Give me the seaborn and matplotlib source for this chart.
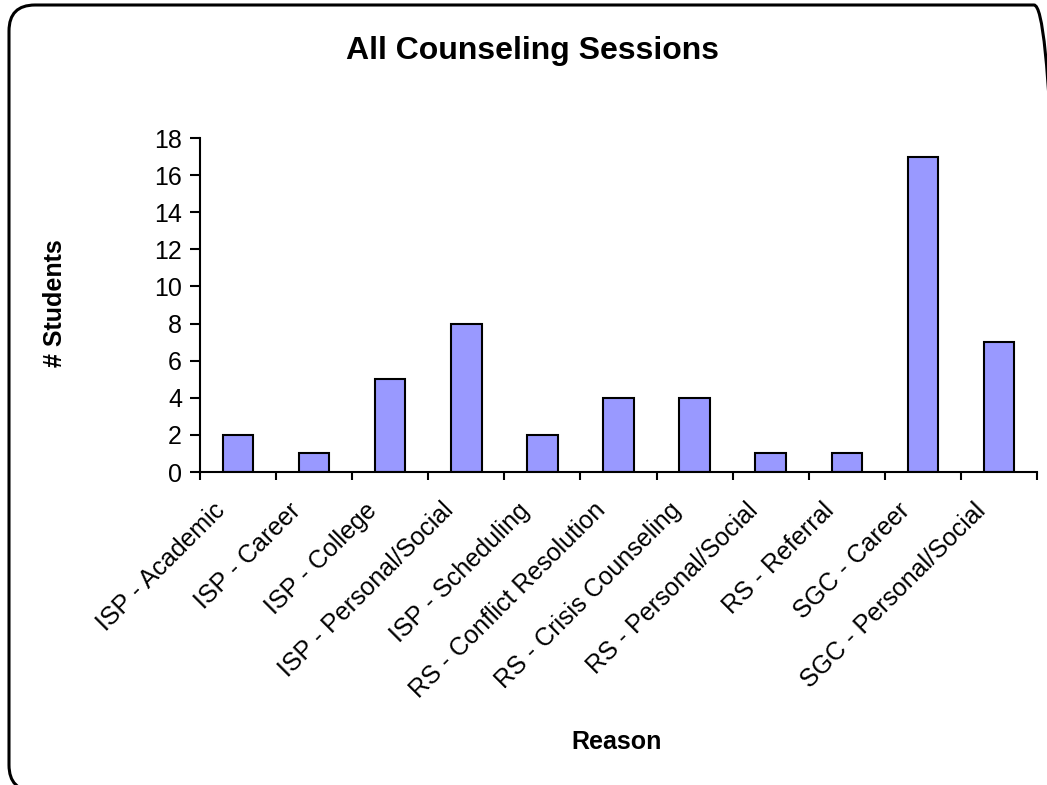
import matplotlib
matplotlib.use("Agg")
import matplotlib.pyplot as plt
from matplotlib.patches import FancyBboxPatch
from matplotlib.transforms import IdentityTransform
import seaborn as sns
import pandas as pd

reasons = [
    "ISP - Academic", "ISP - Career", "ISP - College", "ISP - Personal/Social",
    "ISP - Scheduling", "RS - Conflict Resolution", "RS - Crisis Counseling",
    "RS - Personal/Social", "RS - Referral", "SGC - Career", "SGC - Personal/Social",
]
students = [2, 1, 5, 8, 2, 4, 4, 1, 1, 17, 7]
y_ticks = [0, 2, 4, 6, 8, 10, 12, 14, 16, 18]

sns.set_theme(style="white")
plt.rcParams["font.family"] = ["Liberation Sans", "DejaVu Sans"]
plt.rcParams.update({"text.color": "black", "axes.labelcolor": "black",
                     "xtick.color": "black", "ytick.color": "black"})

df = pd.DataFrame({"Reason": reasons, "Students": students})

W, H = 1047, 785
fig = plt.figure(figsize=(W / 100, H / 100), dpi=100)
fig.patch.set_facecolor("white")

# rounded outer frame of the chart area (pixel coordinates, origin bottom-left)
frame = FancyBboxPatch((9, -6), 1060 - 9, (H - 5) - (-6),
                       boxstyle="round,pad=0,rounding_size=26",
                       transform=IdentityTransform(), fill=False,
                       edgecolor="black", linewidth=2.2, clip_on=False)
fig.patches.append(frame)

ax = fig.add_axes([200 / W, 1 - 472 / H, (1037 - 200) / W, (472 - 138) / H])
sns.barplot(data=df, x="Reason", y="Students", ax=ax, color="#9999FF",
            saturation=1, width=0.4, edgecolor="black", linewidth=1.5)

n = len(reasons)
ax.set_xlim(-0.5, n - 0.5)
ax.set_ylim(0, 18)
ax.set_yticks(y_ticks)
ax.set_yticklabels([str(v) for v in y_ticks], fontsize=18)

# tick marks sit between categories; rotated names hang just left of each bar
ax.set_xticks([i - 0.5 for i in range(n + 1)])
ax.set_xticklabels([])
ax.set_xticks([i - 0.22 for i in range(n)], minor=True)
ax.set_xticklabels(reasons, minor=True, rotation=45, ha="right", va="center",
                   rotation_mode="anchor", fontsize=18)
ax.tick_params(axis="x", which="minor", length=0, pad=25)
ax.tick_params(axis="x", which="major", length=6, width=1.5, direction="out",
               bottom=True)
ax.tick_params(axis="y", length=7, width=1.5, direction="out", left=True,
               pad=6)

for s in ["top", "right"]:
    ax.spines[s].set_visible(False)
for s in ["left", "bottom"]:
    ax.spines[s].set_color("black")
    ax.spines[s].set_linewidth(1.5)

ax.set_xlabel("")
ax.set_ylabel("")
fig.text(617 / W, 1 - 742 / H, "Reason", ha="center", va="center",
         fontsize=18, fontweight="bold")
fig.text(55 / W, 1 - 303 / H, "# Students", ha="center", va="center",
         rotation=90, fontsize=18, fontweight="bold")
fig.text(533 / W, 1 - 51 / H, "All Counseling Sessions", ha="center",
         va="center", fontsize=23, fontweight="bold")

fig.savefig("out.png", dpi=100, facecolor="white")
